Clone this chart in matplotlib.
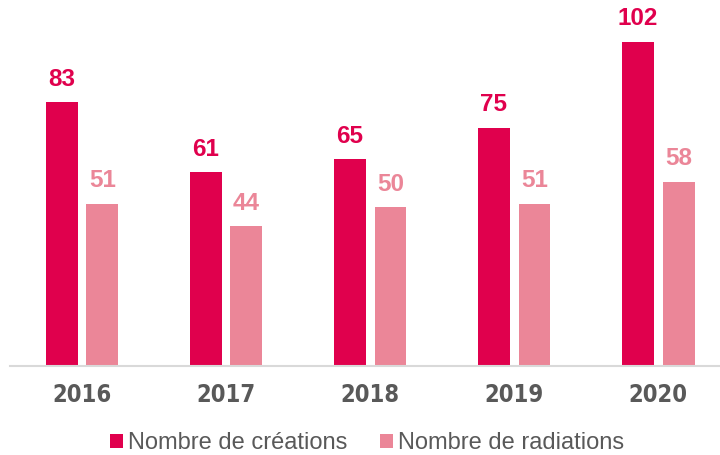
import numpy as np
import matplotlib.pyplot as plt

# ============================================================
# DATA
# ============================================================

years      = ["2016", "2017", "2018", "2019", "2020"]
creations  = [83, 61, 65, 75, 102]
radiations = [51, 44, 50, 51, 58]
series_labels = ["Nombre de créations", "Nombre de radiations"]

# ============================================================
# STYLE
# ============================================================

DARK  = "#E0004D"
LIGHT = "#EB8698"
GREY  = "#595959"

plt.rcParams["font.family"] = ["Liberation Sans", "DejaVu Sans"]

# ============================================================
# PLOT
# ============================================================

fig = plt.figure(figsize=(7.2, 4.55), dpi=100)
ax = fig.add_axes([10 / 720, 89 / 455, 1 - 10 / 720, 366 / 455])

x = np.arange(len(years))
w = 0.222
off = 0.142

b1 = ax.bar(x - off, creations, w, color=DARK, label=series_labels[0])
b2 = ax.bar(x + off, radiations, w, color=LIGHT, label=series_labels[1])

for bars, vals, col in [(b1, creations, DARK), (b2, radiations, LIGHT)]:
    for rect, v in zip(bars, vals):
        ax.annotate(str(v), (rect.get_x() + rect.get_width() / 2, v),
                    xytext=(0, 16.5), textcoords="offset points",
                    ha="center", va="center", color=col,
                    fontsize=17.5, fontweight="bold")

ax.set_xlim(-0.5, 4.43)
ax.set_ylim(0, 115.1)

ax.set_xticks(x)
ax.set_xticklabels(years, fontsize=17, fontweight="bold", color=GREY,
                   family="DejaVu Sans", fontstretch="condensed")
ax.tick_params(axis="x", length=0, pad=12)
ax.set_yticks([])

for s in ["top", "right", "left"]:
    ax.spines[s].set_visible(False)
ax.spines["bottom"].set_color("#D9D9D9")
ax.spines["bottom"].set_linewidth(1.5)

fig.legend(loc="center", bbox_to_anchor=(0.51, 0.026), ncol=2, frameon=False,
           fontsize=17, labelcolor=GREY, handlelength=0.55, handleheight=0.55,
           handletextpad=0.2, columnspacing=1.4, borderaxespad=0)

fig.savefig("out.png", dpi=100)
